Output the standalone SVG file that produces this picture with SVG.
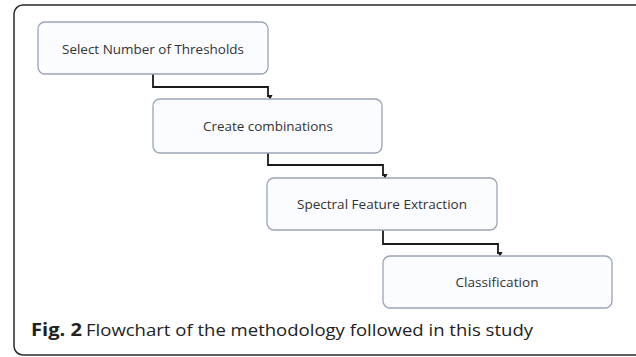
<svg xmlns="http://www.w3.org/2000/svg" width="636" height="357" viewBox="0 0 636 357">
<defs>
<style>
.box{fill:#fbfcff;stroke:#9ba4b6;stroke-width:1.3}
.lbl{font-family:"Open Sans","Liberation Sans",sans-serif;font-size:13px;fill:#333333;text-anchor:middle}
.con{fill:none;stroke:#1a1a1a;stroke-width:1.8}
.cap{font-family:"Open Sans","Liberation Sans",sans-serif;font-size:17px;fill:#222}
</style>
<marker id="ah" markerWidth="6" markerHeight="6" refX="3" refY="5" orient="auto" markerUnits="userSpaceOnUse" viewBox="0 0 6 6">
<path d="M0.5,1 L5.5,1 L3,6 Z" fill="#1a1a1a" transform="rotate(-90 3 3)"/>
</marker>
</defs>
<rect width="636" height="357" fill="#ffffff"/>
<rect x="14" y="5" width="632" height="350" rx="9" fill="none" stroke="#2a2a2a" stroke-width="1.5"/>
<g id="connectors">
<path class="con" d="M153,74 V87 H268 V97" marker-end="url(#ah)"/>
<path class="con" d="M268,153 V165 H383 V176" marker-end="url(#ah)"/>
<path class="con" d="M383,230 V244 H498 V254" marker-end="url(#ah)"/>
</g>
<g id="node1">
<rect class="box" x="38" y="22" width="230" height="52" rx="7"/>
<text class="lbl" x="153" y="54" textLength="182" lengthAdjust="spacingAndGlyphs">Select Number of Thresholds</text>
</g>
<g id="node2">
<rect class="box" x="153" y="99" width="229" height="54" rx="7"/>
<text class="lbl" x="268" y="131" textLength="130" lengthAdjust="spacingAndGlyphs">Create combinations</text>
</g>
<g id="node3">
<rect class="box" x="267" y="178" width="230" height="52" rx="7"/>
<text class="lbl" x="382" y="209" textLength="170" lengthAdjust="spacingAndGlyphs">Spectral Feature Extraction</text>
</g>
<g id="node4">
<rect class="box" x="383" y="256" width="229" height="52" rx="7"/>
<text class="lbl" x="497" y="287" textLength="83" lengthAdjust="spacingAndGlyphs">Classification</text>
</g>
<text class="cap" x="31" y="336"><tspan font-weight="bold" textLength="51" lengthAdjust="spacingAndGlyphs">Fig. 2</tspan><tspan x="86" textLength="447" lengthAdjust="spacingAndGlyphs">Flowchart of the methodology followed in this study</tspan></text>
</svg>
